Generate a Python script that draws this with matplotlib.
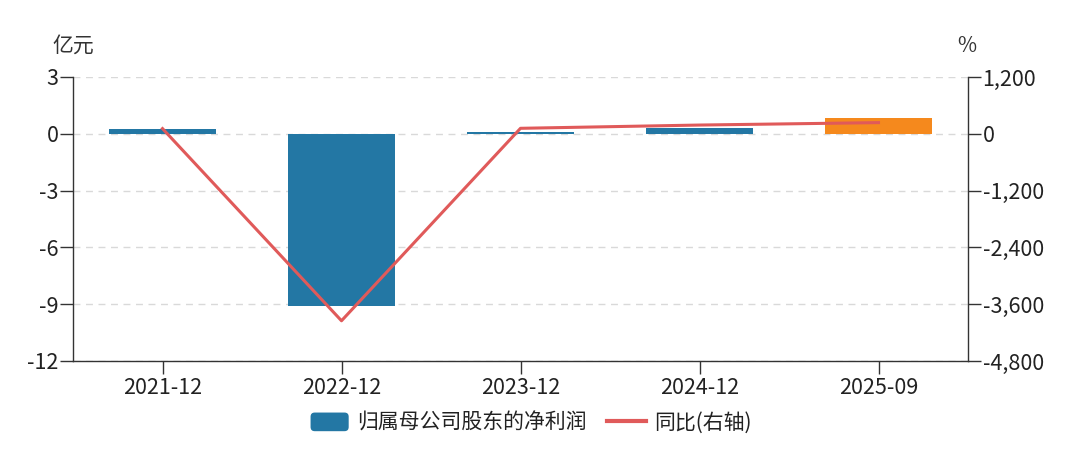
import matplotlib
matplotlib.use("Agg")
import matplotlib.pyplot as plt
from matplotlib.patches import FancyBboxPatch
from matplotlib.lines import Line2D
from matplotlib.legend_handler import HandlerPatch

plt.rcParams['font.family'] = ['Noto Sans CJK SC', 'DejaVu Sans']

categories = ['2021-12', '2022-12', '2023-12', '2024-12', '2025-09']
profit = [0.25, -9.09, 0.12, 0.32, 0.82]
yoy = [110, -3950, 116, 185, 236]
bar_colors = ['#2377a4', '#2377a4', '#2377a4', '#2377a4', '#f5891d']
left_ticks = [3, 0, -3, -6, -9, -12]
right_ticks = [1200, 0, -1200, -2400, -3600, -4800]

W, H = 1077, 453
fig = plt.figure(figsize=(W / 100, H / 100), dpi=100)
ax = fig.add_axes([73 / W, 1 - 361 / H, (968 - 73) / W, (361 - 77) / H])
ax2 = ax.twinx()

x = list(range(len(categories)))
ax.bar(x, profit, width=0.6, color=bar_colors, zorder=2)
ax.set_xlim(-0.5, 4.5)
ax.set_ylim(-12, 3)
ax.set_yticks(left_ticks)
ax.set_yticklabels([str(v) for v in left_ticks])
ax.set_xticks(x)
ax.set_xticklabels(categories)
ax.grid(axis='y', linestyle=(0, (5, 4)), color='#d9d9d9', linewidth=1, zorder=0)
ax.set_axisbelow(True)

ax2.plot(x, yoy, color='#e05a5a', linewidth=2.2, zorder=3)
ax2.set_ylim(-4800, 1200)
ax2.set_yticks(right_ticks)
ax2.set_yticklabels([f"{v:,}" for v in right_ticks])

for a in (ax, ax2):
    a.spines['top'].set_visible(False)
    for s in ('left', 'right', 'bottom'):
        a.spines[s].set_color('#333333')
        a.spines[s].set_linewidth(1)
    a.tick_params(axis='both', colors='#333333', labelsize=15.5, length=9.5, width=1,
                  labelcolor='#222222', pad=1)
ax.tick_params(axis='x', pad=2)
ax.spines['right'].set_visible(False)
ax2.spines['left'].set_visible(False)
ax2.spines['bottom'].set_visible(False)

fig.text(52 / W, 1 - 46 / H, '亿元', fontsize=15, color='#333333', va='center', ha='left')
fig.text(967 / W, 1 - 46 / H, '%', fontsize=15, color='#333333', va='center', ha='center')


class RoundHandler(HandlerPatch):
    def create_artists(self, legend, orig_handle, xdescent, ydescent, width, height, fontsize, trans):
        p = FancyBboxPatch((-xdescent, -ydescent), width, height,
                           boxstyle="round,pad=0,rounding_size=3",
                           facecolor='#2377a4', edgecolor='none', transform=trans)
        return [p]


bar_handle = FancyBboxPatch((0, 0), 1, 1, facecolor='#2377a4')
line_handle = Line2D([0], [0], color='#e05a5a', linewidth=3)
fig.legend([bar_handle, line_handle], ['归属母公司股东的净利润', '同比(右轴)'],
           loc='center', bbox_to_anchor=(531 / W, 1 - 423 / H), ncol=2, frameon=False,
           fontsize=15, handlelength=1.83, handleheight=1.0, columnspacing=1.0,
           handletextpad=0.4, handler_map={FancyBboxPatch: RoundHandler()},
           labelcolor='#222222')

fig.savefig('out.png', dpi=100)
